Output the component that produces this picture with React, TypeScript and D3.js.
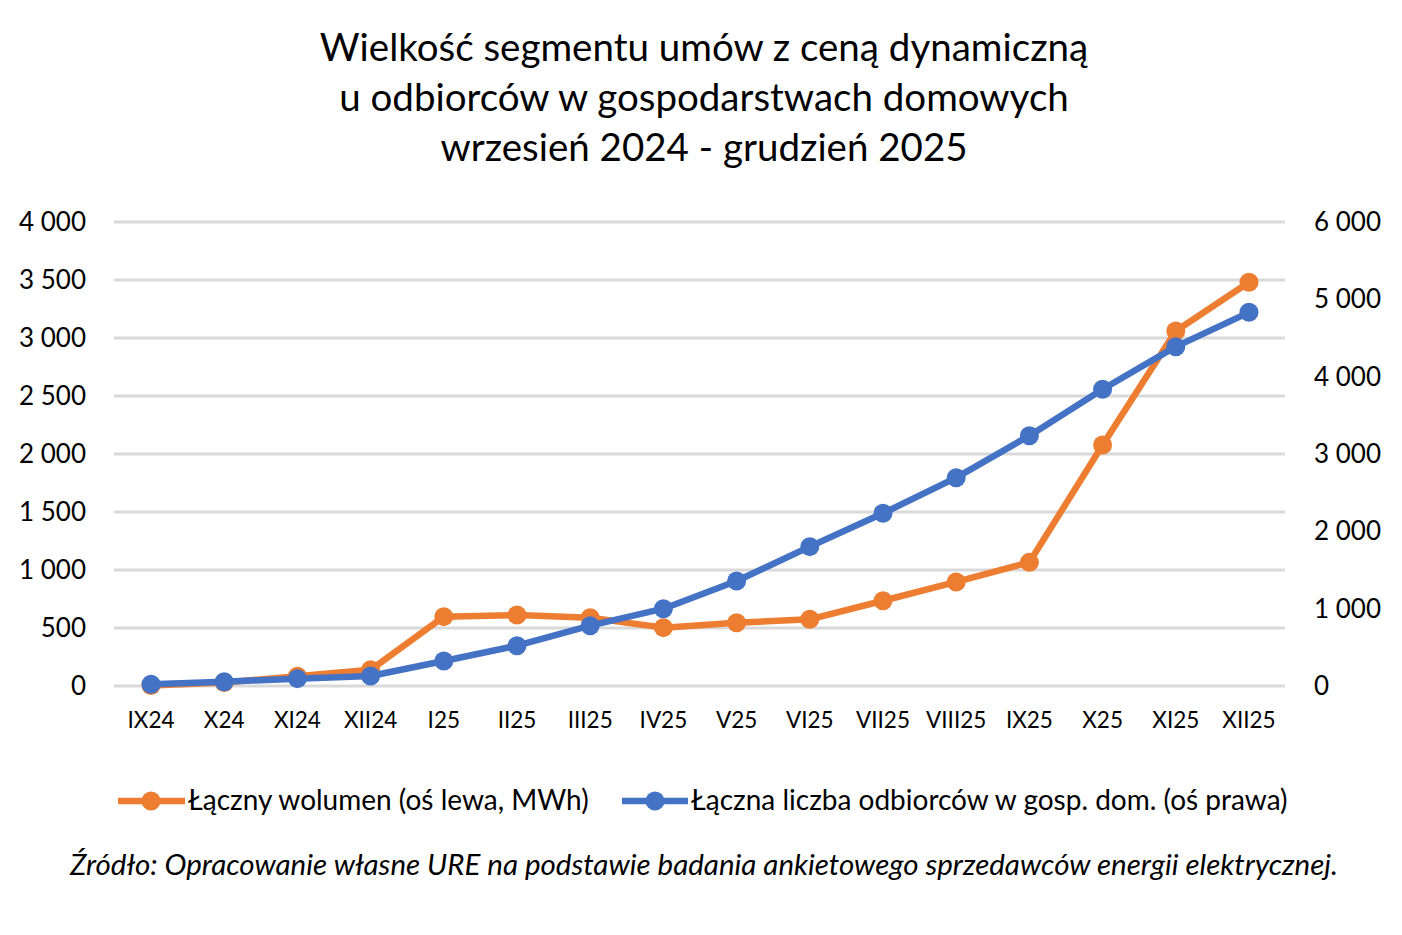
import React from "react";
import * as d3 from "d3";

const categories = ["IX24","X24","XI24","XII24","I25","II25","III25","IV25","V25","VI25","VII25","VIII25","IX25","X25","XI25","XII25"];
const volumeMWh = [5, 30, 85, 140, 598, 612, 588, 503, 546, 575, 735, 897, 1066, 2078, 3060, 3480];
const customers = [22, 56, 95, 129, 323, 521, 780, 1000, 1358, 1802, 2233, 2694, 3237, 3837, 4388, 4832];
const leftTicks = [0, 500, 1000, 1500, 2000, 2500, 3000, 3500, 4000];
const rightTicks = [0, 1000, 2000, 3000, 4000, 5000, 6000];
const titleLines = ["Wielkość segmentu umów z ceną dynamiczną", "u odbiorców w gospodarstwach domowych", "wrzesień 2024 - grudzień 2025"];
const legendLabels = ["Łączny wolumen (oś lewa, MWh)", "Łączna liczba odbiorców w gosp. dom. (oś prawa)"];
const sourceText = "Źródło: Opracowanie własne URE na podstawie badania ankietowego sprzedawców energii elektrycznej.";

const W = 1402, H = 935;
const ORANGE = "#ED7D31", BLUE = "#4472C4";
const FONT = "Lato, 'Open Sans', sans-serif";

const fmt = (v: number) => d3.format(",")(v).replace(/,/g, " ");

export default function App() {
  const x = d3.scalePoint<string>().domain(categories).range([151, 1249]);
  const yL = d3.scaleLinear().domain([0, 4000]).range([686, 222]);
  const yR = d3.scaleLinear().domain([0, 6000]).range([686, 222]);
  const lineL = d3.line<number>().x((_, i) => x(categories[i])!).y((d) => yL(d));
  const lineR = d3.line<number>().x((_, i) => x(categories[i])!).y((d) => yR(d));

  return (
    <svg width={W} height={H} style={{ position: "absolute", left: 0, top: 0, background: "#fff" }} fontFamily={FONT}>
      <rect width={W} height={H} fill="#fff" />
      {titleLines.map((t, i) => (
        <text key={i} x={704} y={61 + i * 50} textAnchor="middle" fontSize={38.5} fill="#000">{t}</text>
      ))}
      {leftTicks.map((t) => (
        <line key={"g" + t} x1={114} x2={1285} y1={yL(t)} y2={yL(t)} stroke="#d9d9d9" strokeWidth={3} />
      ))}
      {leftTicks.map((t) => (
        <text key={"l" + t} x={86} y={yL(t) + 9} textAnchor="end" fontSize={26} fill="#000">{fmt(t)}</text>
      ))}
      {rightTicks.map((t) => (
        <text key={"r" + t} x={1314} y={yR(t) + 9} textAnchor="start" fontSize={26} fill="#000">{fmt(t)}</text>
      ))}
      {categories.map((c) => (
        <text key={c} x={x(c)} y={728} textAnchor="middle" fontSize={22.5} fill="#000">{c}</text>
      ))}
      <path d={lineL(volumeMWh)!} fill="none" stroke={ORANGE} strokeWidth={6.5} strokeLinejoin="round" />
      {volumeMWh.map((v, i) => (
        <circle key={"o" + i} cx={x(categories[i])} cy={yL(v)} r={9.5} fill={ORANGE} />
      ))}
      <path d={lineR(customers)!} fill="none" stroke={BLUE} strokeWidth={6.5} strokeLinejoin="round" />
      {customers.map((v, i) => (
        <circle key={"b" + i} cx={x(categories[i])} cy={yR(v)} r={9.5} fill={BLUE} />
      ))}
      <g>
        <line x1={118} x2={185} y1={801} y2={801} stroke={ORANGE} strokeWidth={6.5} />
        <circle cx={151} cy={801} r={9.5} fill={ORANGE} />
        <text x={188} y={810} fontSize={28} fill="#000">{legendLabels[0]}</text>
        <line x1={622} x2={688} y1={801} y2={801} stroke={BLUE} strokeWidth={6.5} />
        <circle cx={655} cy={801} r={9.5} fill={BLUE} />
        <text x={691} y={810} fontSize={28} fill="#000">{legendLabels[1]}</text>
      </g>
      <text x={704} y={875} textAnchor="middle" fontSize={29.5} fontStyle="italic" fill="#000">{sourceText}</text>
    </svg>
  );
}
